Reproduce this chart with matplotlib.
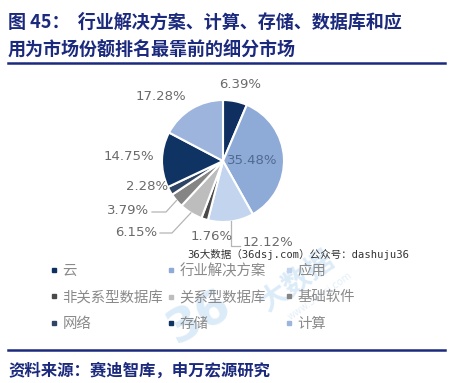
import numpy as np
import matplotlib
matplotlib.use('Agg')
from matplotlib import pyplot as plt
from matplotlib.lines import Line2D

# Data
categories = ["云", "行业解决方案", "应用", "非关系型数据库", "关系型数据库",
              "基础软件", "网络", "存储", "计算"]
shares = [6.39, 35.48, 12.12, 1.76, 6.15, 3.79, 2.28, 14.75, 17.28]
colors = ['#0e2f5f', '#8eaad6', '#c3d5ee', '#4a4a4a', '#bdbdbd',
          '#858585', '#2f4566', '#0f3363', '#9db5dc']

title_1 = "图 45：  行业解决方案、计算、存储、数据库和应"
title_2 = "用为市场份额排名最靠前的细分市场"
source = "资料来源：赛迪智库，申万宏源研究"
watermark = "36大数据（36dsj.com）公众号：dashuju36"

W, H = 452, 383
navy = '#1c2a7d'
cjk = ['Noto Sans CJK SC', 'DejaVu Sans']
plt.rcParams['font.family'] = cjk

fig = plt.figure(figsize=(W / 100, H / 100), dpi=100)

def fx(px):
    return px / W

def fy(py):
    return 1 - py / H

# pie placed by its centre and radius in pixels
cx, cy, r = 223, 161, 61
ax = fig.add_axes([fx(cx - r), fy(cy + r), 2 * r / W, 2 * r / H])
wedges, _ = ax.pie(shares, colors=colors, startangle=90, counterclock=False,
                   radius=1, wedgeprops=dict(edgecolor='white', linewidth=1.5))
ax.set_xlim(-1, 1)
ax.set_ylim(-1, 1)
ax.set_aspect('auto')
ax.axis('off')

def to_data(px, py):
    return (px - cx) / r, (cy - py) / r

# label positions in pixels (x, y, ha)
label_pos = [(240, 84, 'center'), (252, 160, 'center'), (243, 243, 'left'),
             (212, 236, 'center'), (157, 233, 'right'), (149, 211, 'right'),
             (147, 187, 'center'), (129, 157, 'center'), (161, 96, 'center')]
for i, (v, (px, py, ha)) in enumerate(zip(shares, label_pos)):
    x, y = to_data(px, py)
    col = '#4f6b93' if i == 1 else '#6a6a6a'
    ax.text(x, y, f"{v:.2f}%", ha=ha, va='center', fontsize=9.5,
            family='DejaVu Sans', color=col, clip_on=False)

def edge(i):
    w = wedges[i]
    a = np.deg2rad((w.theta1 + w.theta2) / 2)
    return np.cos(a), np.sin(a)

# leader lines
lc = '#b5b5b5'
ex, ey = edge(2)
x1, y1 = to_data(0, 246)
x2, _ = to_data(240, 0)
ax.plot([ex, ex, x2], [ey, y1, y1], color=lc, lw=0.9, clip_on=False)
ex, ey = edge(4)
xa, ya = to_data(172, 233)
xb, _ = to_data(160, 0)
ax.plot([ex, xa, xb], [ey, ya, ya], color=lc, lw=0.9, clip_on=False)
ex, ey = edge(5)
xa, ya = to_data(166, 212)
xb, _ = to_data(152, 0)
ax.plot([ex, xa, xb], [ey, ya, ya], color=lc, lw=0.9, clip_on=False)

# faint watermark logo
fig.text(fx(200), fy(318), "36", fontsize=34, fontweight='bold', color='#dcebf8',
         rotation=28, ha='center', va='center', family='DejaVu Sans', zorder=0)
fig.text(fx(298), fy(282), "大数据", fontsize=20, fontweight='bold', color='#dcebf8',
         rotation=35, ha='center', va='center', zorder=0)
fig.text(fx(320), fy(296), "www.36dsj.com", fontsize=7, color='#e4eff9',
         rotation=35, ha='center', va='center', family='DejaVu Sans', zorder=0)

# legend: three columns, each its own legend
handles = [Line2D([], [], marker='s', linestyle='', markersize=3.4,
                  markerfacecolor=c, markeredgecolor=c) for c in colors]
col_x = [50, 167, 285]
for c in range(3):
    lg = fig.legend(handles[c::3], categories[c::3], loc='upper left',
                    bbox_to_anchor=(fx(col_x[c]), fy(264)), frameon=False,
                    fontsize=10.4, handlelength=0.5, handletextpad=0.35,
                    labelspacing=0.85, borderpad=0, borderaxespad=0,
                    labelcolor='#8a8a8a')

fig.text(fx(187), fy(254), watermark, fontsize=7.6, color='#333333',
         family=['DejaVu Sans Mono', 'Noto Sans CJK SC'], va='center')

# titles and rules
fig.text(fx(8), fy(22), title_1, fontsize=13.0, fontweight='bold', color=navy,
         va='center')
fig.text(fx(8), fy(50), title_2, fontsize=13.0, fontweight='bold', color=navy,
         va='center')
fig.add_artist(Line2D([fx(8), fx(445)], [fy(63), fy(63)], color=navy, lw=1.8))
fig.add_artist(Line2D([fx(8), fx(445)], [fy(350), fy(350)], color=navy, lw=1.8))
fig.text(fx(8), fy(371), source, fontsize=11.8, fontweight='bold', color=navy,
         va='center')

fig.savefig('out.png', dpi=100, facecolor='white')
